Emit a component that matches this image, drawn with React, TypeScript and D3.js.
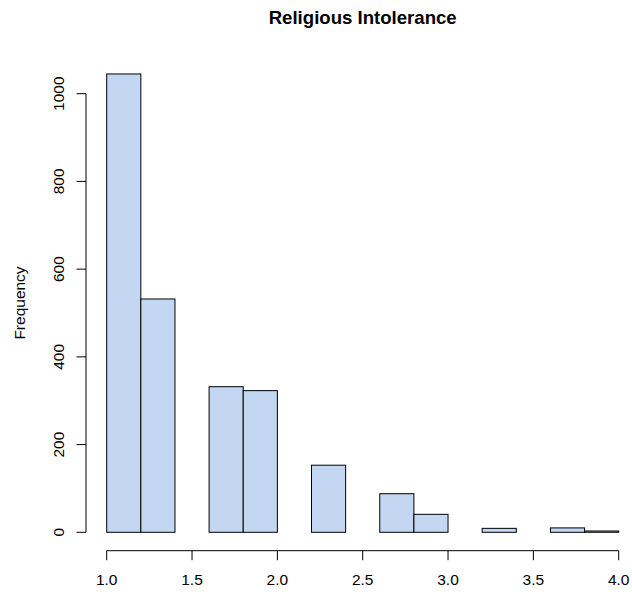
import React from "react";
import * as d3 from "d3";

const binStarts = [1.0, 1.2, 1.4, 1.6, 1.8, 2.0, 2.2, 2.4, 2.6, 2.8, 3.0, 3.2, 3.4, 3.6, 3.8];
const binWidth = 0.2;
const counts = [1045, 532, 0, 332, 323, 0, 153, 0, 88, 41, 0, 9, 0, 10, 3];
const xTicks = [1.0, 1.5, 2.0, 2.5, 3.0, 3.5, 4.0];
const yTicks = [0, 200, 400, 600, 800, 1000];

export default function App() {
  const W = 632, H = 597;
  const x = d3.scaleLinear().domain([1, 4]).range([106.7, 618.7]);
  const y = d3.scaleLinear().domain([0, 1000]).range([532.3, 93.7]);
  const font = "'Liberation Sans', Arial, sans-serif";
  const axisY = 550.7;
  const axisX = 86;
  const fs = 15.5;
  return (
    <svg width={W} height={H} style={{ position: "absolute", left: 0, top: 0 }} fontFamily={font}>
      <rect width={W} height={H} fill="white" />
      <text x={362.7} y={24} textAnchor="middle" fontWeight="bold" fontSize={18.6}>Religious Intolerance</text>
      {binStarts.map((b, i) => (
        <rect key={i} x={x(b)} y={y(counts[i])} width={x(b + binWidth) - x(b)} height={y(0) - y(counts[i])}
          fill="#c3d6f2" stroke="black" strokeWidth={1} />
      ))}
      <line x1={x(1)} x2={x(4)} y1={axisY} y2={axisY} stroke="black" />
      {xTicks.map((t) => (
        <g key={t}>
          <line x1={x(t)} x2={x(t)} y1={axisY} y2={axisY + 9.5} stroke="black" />
          <text x={x(t)} y={584.5} textAnchor="middle" fontSize={fs}>{t.toFixed(1)}</text>
        </g>
      ))}
      <line x1={axisX} x2={axisX} y1={y(0)} y2={y(1000)} stroke="black" />
      {yTicks.map((t) => (
        <g key={t}>
          <line x1={axisX} x2={axisX - 9.5} y1={y(t)} y2={y(t)} stroke="black" />
          <text transform={`translate(63.5,${y(t)}) rotate(-90)`} textAnchor="middle" fontSize={fs}>{t}</text>
        </g>
      ))}
      <text transform={`translate(24.5,303) rotate(-90)`} textAnchor="middle" fontSize={fs}>Frequency</text>
    </svg>
  );
}
